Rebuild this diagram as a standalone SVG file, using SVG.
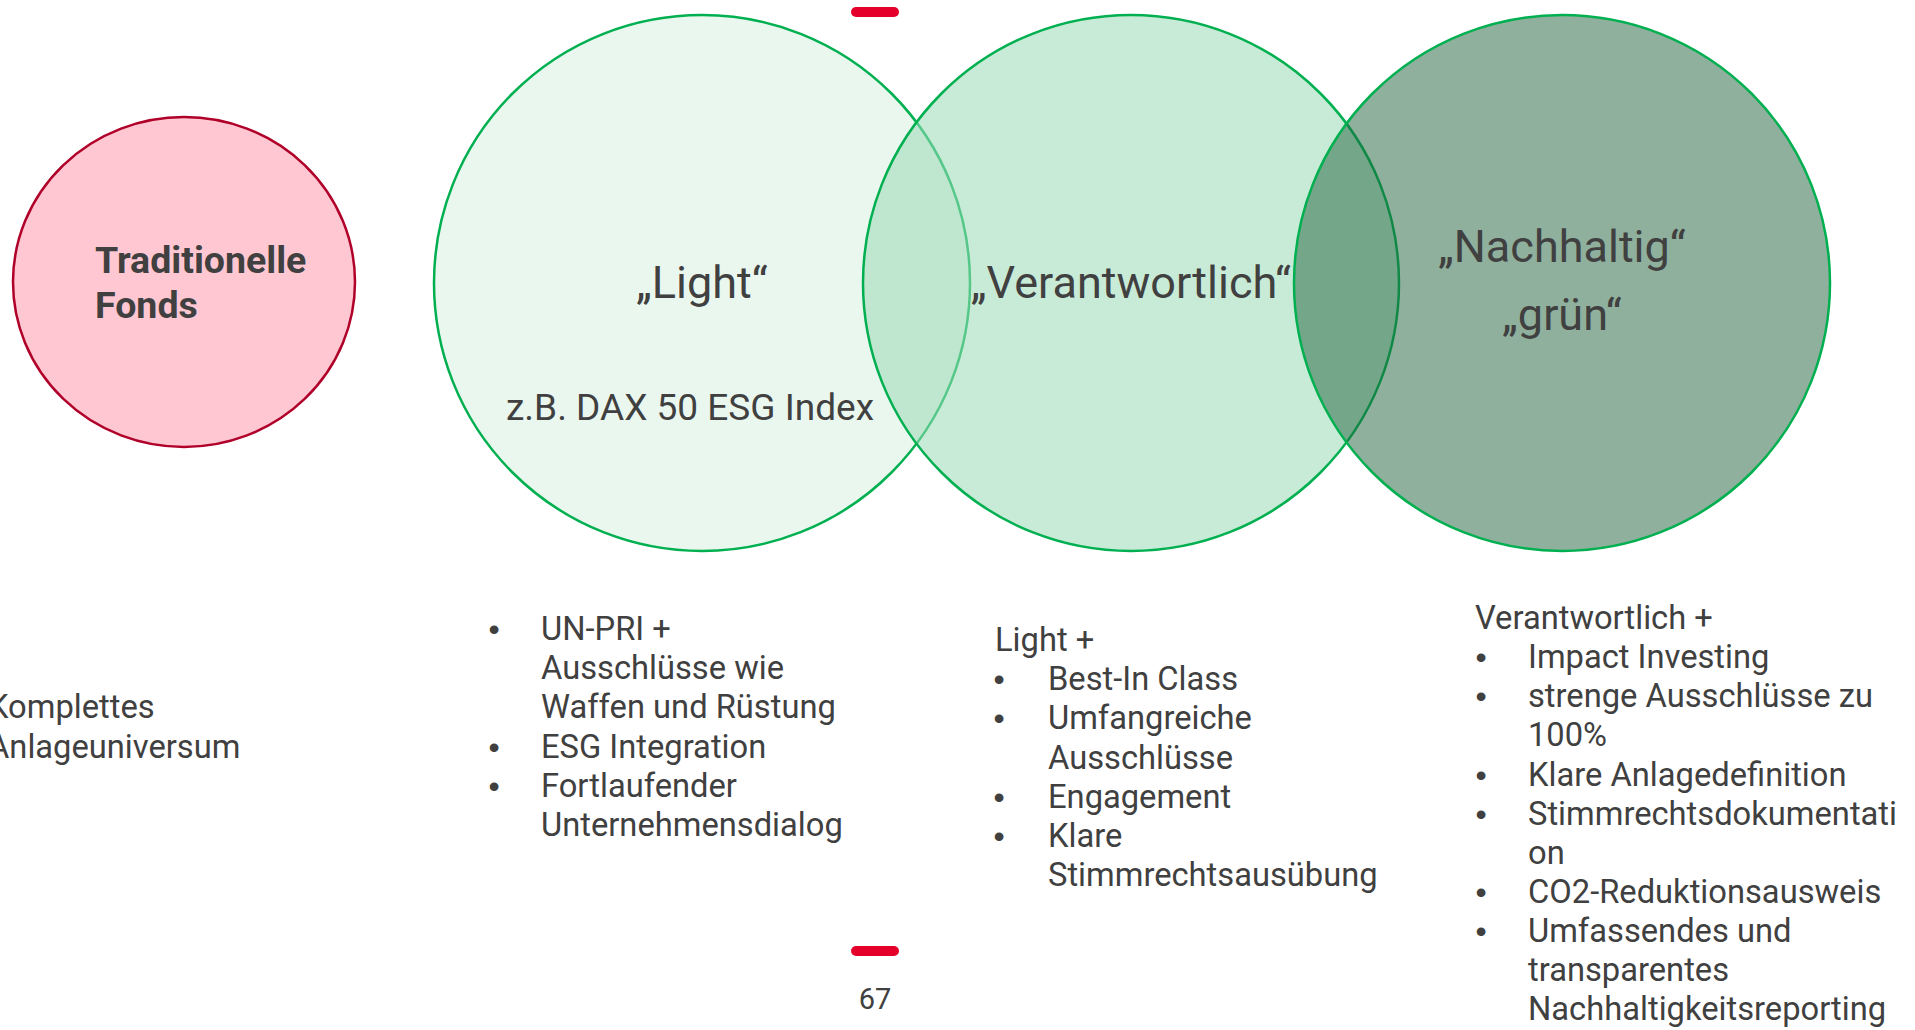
<svg xmlns="http://www.w3.org/2000/svg" width="1915" height="1030" viewBox="0 0 1915 1030">
  <style>
    text { font-family: Roboto, "Liberation Sans", sans-serif; fill: #404040; }
    .big { font-size: 45px; text-anchor: middle; }
    .body { font-size: 32.7px; }
    .bul { font-family: "Liberation Sans", Arial, sans-serif; font-size: 32px; text-anchor: middle; }
    .bold { font-size: 37.5px; font-weight: bold; }
    .green { stroke: #00B050; stroke-width: 2.5; }
  </style>
  <rect x="0" y="0" width="1915" height="1030" fill="#FFFFFF"/>
  <rect x="851" y="7" width="48" height="10" rx="5" fill="#E4002B"/>
  <rect x="851" y="946" width="48" height="10" rx="5" fill="#E4002B"/>
  <text x="875" y="1009" font-size="29" text-anchor="middle">67</text>

  <g id="node-traditionelle">
    <ellipse cx="184" cy="282" rx="171" ry="165" fill="#FFC7D2" stroke="#B0002A" stroke-width="2.5"/>
    <text class="bold" x="95" y="273">Traditionelle</text>
    <text class="bold" x="95" y="318">Fonds</text>
  </g>

  <g id="node-light-circle">
    <circle class="green" cx="702" cy="283" r="268" fill="#EAF7EF"/>
  </g>
  <g id="node-verantwortlich-circle">
    <circle class="green" cx="1131" cy="283" r="268" fill="rgb(155,219,182)" fill-opacity="0.55"/>
  </g>
  <g id="node-nachhaltig-circle">
    <circle class="green" cx="1562" cy="283" r="268" fill="rgb(31,97,59)" fill-opacity="0.5"/>
  </g>

  <g id="node-light-text">
    <text class="big" x="702" y="298">„Light“</text>
    <text x="690" y="420" font-size="37" text-anchor="middle">z.B. DAX 50 ESG Index</text>
  </g>
  <g id="node-verantwortlich-text">
    <text class="big" x="1131" y="298">„Verantwortlich“</text>
  </g>
  <g id="node-nachhaltig-text">
    <text class="big" x="1562" y="262">„Nachhaltig“</text>
    <text class="big" x="1562" y="330">„grün“</text>
  </g>

  <g id="list-traditionell">
    <text class="body" x="-12" y="718">Komplettes</text>
    <text class="body" x="-12" y="758">Anlageuniversum</text>
  </g>

  <g id="list-light">
    <text class="bul" x="494" y="640">•</text>
    <text class="body" x="541" y="640">UN-PRI +</text>
    <text class="body" x="541" y="679">Ausschlüsse wie</text>
    <text class="body" x="541" y="718">Waffen und Rüstung</text>
    <text class="bul" x="494" y="758">•</text>
    <text class="body" x="541" y="758">ESG Integration</text>
    <text class="bul" x="494" y="797">•</text>
    <text class="body" x="541" y="797">Fortlaufender</text>
    <text class="body" x="541" y="836">Unternehmensdialog</text>
  </g>

  <g id="list-verantwortlich">
    <text class="body" x="995" y="651">Light +</text>
    <text class="bul" x="999" y="690">•</text>
    <text class="body" x="1048" y="690">Best-In Class</text>
    <text class="bul" x="999" y="729">•</text>
    <text class="body" x="1048" y="729">Umfangreiche</text>
    <text class="body" x="1048" y="769">Ausschlüsse</text>
    <text class="bul" x="999" y="808">•</text>
    <text class="body" x="1048" y="808">Engagement</text>
    <text class="bul" x="999" y="847">•</text>
    <text class="body" x="1048" y="847">Klare</text>
    <text class="body" x="1048" y="886">Stimmrechtsausübung</text>
  </g>

  <g id="list-nachhaltig">
    <text class="body" x="1475" y="629">Verantwortlich +</text>
    <text class="bul" x="1481" y="668">•</text>
    <text class="body" x="1528" y="668">Impact Investing</text>
    <text class="bul" x="1481" y="707">•</text>
    <text class="body" x="1528" y="707">strenge Ausschlüsse zu</text>
    <text class="body" x="1528" y="746">100%</text>
    <text class="bul" x="1481" y="786">•</text>
    <text class="body" x="1528" y="786">Klare Anlagedefinition</text>
    <text class="bul" x="1481" y="825">•</text>
    <text class="body" x="1528" y="825">Stimmrechtsdokumentati</text>
    <text class="body" x="1528" y="864">on</text>
    <text class="bul" x="1481" y="903">•</text>
    <text class="body" x="1528" y="903">CO2-Reduktionsausweis</text>
    <text class="bul" x="1481" y="942">•</text>
    <text class="body" x="1528" y="942">Umfassendes und</text>
    <text class="body" x="1528" y="981">transparentes</text>
    <text class="body" x="1528" y="1020">Nachhaltigkeitsreporting</text>
  </g>

  <g id="connectors"/>
</svg>
